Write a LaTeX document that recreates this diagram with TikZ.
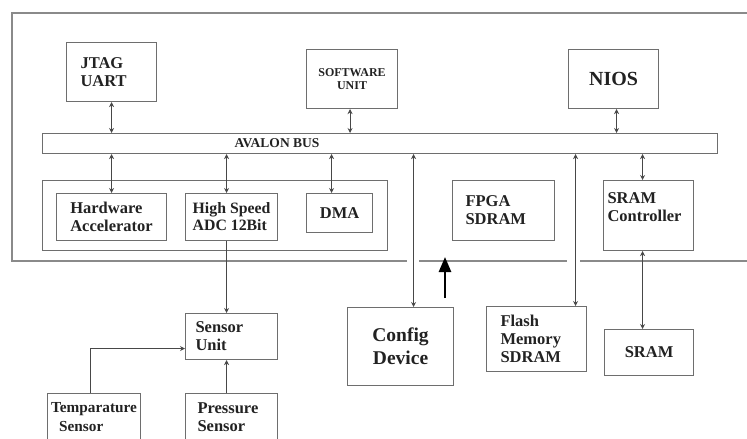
\documentclass[tikz,border=0pt]{standalone}
\usepackage{fontspec}
\setmainfont{Liberation Serif}
\usetikzlibrary{arrows.meta}
\definecolor{framegray}{HTML}{8A8A8A}
\definecolor{boxgray}{HTML}{6E6E6E}
\definecolor{linkgray}{HTML}{484848}
\definecolor{txt}{HTML}{222222}
\begin{document}
\begin{tikzpicture}[x=1pt, y=-1pt,
		box/.style={draw=boxgray, line width=1.1pt, anchor=north west, text=txt, inner sep=2pt,
			font=\fontsize{16.5}{18}\selectfont\bfseries},
		link/.style={draw=linkgray, line width=1pt, {Stealth[length=5pt,width=5pt]}-{Stealth[length=5pt,width=5pt]}},
		feed/.style={draw=linkgray, line width=1pt, -{Stealth[length=5pt,width=5pt]}}]
		\useasboundingbox (0,0) rectangle (747,439);
		\clip (0,0) rectangle (747,439);
		
		% FPGA frame (open to the right, gaps where lines leave)
		\draw[framegray, line width=1.6pt] (747,13) -- (12,13) -- (12,261) -- (407,261);
		\draw[framegray, line width=1.6pt] (419,261) -- (567,261);
		\draw[framegray, line width=1.6pt] (580,261) -- (747,261);
		
		% Top units
		\node[box, minimum width=90pt, minimum height=59pt, text width=62pt, inner xsep=14pt, align=left] (jtag) at (66,42) {JTAG\\UART};
		\node[box, minimum width=91pt, minimum height=59pt, align=center, font=\fontsize{12}{13}\selectfont\bfseries] (soft) at (306,49) {SOFTWARE\\UNIT};
		\node[box, minimum width=90pt, minimum height=59pt, font=\fontsize{20}{22}\selectfont\bfseries] (nios) at (568,49) {NIOS};
		
		% Avalon bus
		\node[box, minimum width=675pt, minimum height=20pt,
			label={[xshift=-103pt, text=txt, font=\fontsize{13.5}{15}\selectfont\bfseries]center:AVALON BUS}] (bus) at (42,133) {};
		
		% Peripheral group
		\node[box, minimum width=345pt, minimum height=70pt] (grp) at (42,180) {};
		\node[box, minimum width=110pt, minimum height=47pt, align=left] (hwacc) at (56,193) {Hardware\\Accelerator};
		\node[box, minimum width=92pt, minimum height=47pt, inner xsep=1pt, align=left, font=\fontsize{15.8}{17}\selectfont\bfseries] (adc) at (185,193) {High Speed\\ADC 12Bit};
		\node[box, minimum width=66pt, minimum height=39pt] (dma) at (306,193) {DMA};
		
		% Memories inside FPGA
		\node[box, minimum width=102pt, minimum height=60pt, text width=76pt, inner xsep=13pt, align=left] (fsdram) at (452,180) {FPGA\\SDRAM};
		\node[box, minimum width=90pt, minimum height=70pt, text width=82pt, inner xsep=4pt, align=left] (sramc) at (603,180) {SRAM\\Controller\\\mbox{}};
		
		% Outside FPGA
		\node[box, minimum width=106pt, minimum height=78pt, align=center, font=\fontsize{19.5}{23}\selectfont\bfseries] (cfg) at (347,307) {Config\\Device};
		\node[box, minimum width=100pt, minimum height=65pt, text width=72pt, inner xsep=14pt, align=left] (flash) at (486,306) {Flash\\Memory\\SDRAM};
		\node[box, minimum width=89pt, minimum height=46pt] (sram) at (604,329) {SRAM};
		
		% Sensors
		\node[box, minimum width=92pt, minimum height=46pt, text width=72pt, inner xsep=10pt, align=left] (sensor) at (185,313) {Sensor\\Unit};
		\node[box, minimum width=93pt, minimum height=48pt, inner xsep=1pt, align=left, font=\fontsize{15.3}{19}\selectfont\bfseries] (temp) at (47,393) {Temparature\\\hspace*{8pt}Sensor};
		\node[box, minimum width=92pt, minimum height=48pt, text width=68pt, inner xsep=12pt, align=left] (press) at (185,393) {Pressure\\Sensor};
		
		% Bus connections
		\draw[link] (jtag.south) -- (jtag.south |- bus.north);
		\draw[link] ([xshift=-2pt]soft.south) -- ([xshift=-2pt]soft.south |- bus.north);
		\draw[link] ([xshift=3pt]nios.south) -- ([xshift=3pt]nios.south |- bus.north);
		\draw[link] (hwacc.north |- bus.south) -- (hwacc.north);
		\draw[link] ([xshift=-5pt]adc.north |- bus.south) -- ([xshift=-5pt]adc.north);
		\draw[link] ([xshift=-8pt]dma.north |- bus.south) -- ([xshift=-8pt]dma.north);
		\draw[link] ([xshift=-6pt]sramc.north |- bus.south) -- ([xshift=-6pt]sramc.north);
		\draw[link] ([xshift=13pt]cfg.north |- bus.south) -- ([xshift=13pt]cfg.north);
		\draw[link] ([xshift=39pt]flash.north |- bus.south) -- ([xshift=39pt]flash.north);
		\draw[link] ([xshift=-6pt]sramc.south) -- ([xshift=-6pt]sramc.south |- sram.north);
		
		% Sensor paths
		\draw[feed] ([xshift=-5pt]adc.south) -- ([xshift=-5pt]adc.south |- sensor.north);
		\draw[feed] ([xshift=-5pt]press.north) -- ([xshift=-5pt]press.north |- sensor.south);
		\draw[feed] ([xshift=-4pt]temp.north) |- ([yshift=-12pt]sensor.west);
		
		% Configuration arrow
		\coordinate (cfgtail) at (445,298);
		\coordinate (cfghead) at (445,257);
		\draw[black, line width=2.6pt, -{Triangle[length=15pt,width=12pt]}] (cfgtail) -- (cfghead);
\end{tikzpicture}
\end{document}
